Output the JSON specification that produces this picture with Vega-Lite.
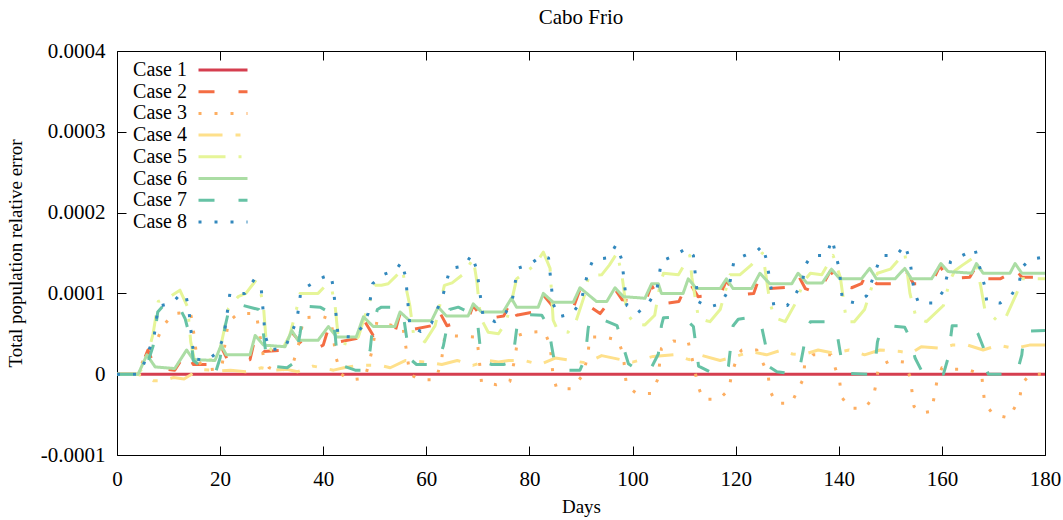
{
"$schema":"https://vega.github.io/schema/vega-lite/v6.json",
"width":928,"height":404,
"autosize":{"type":"none"},
"padding":{"left":117,"top":51,"right":18,"bottom":65},
"background":"white",
"title":{"text":"Cabo Frio","font":"Liberation Serif","fontSize":21,"fontWeight":"normal","color":"black","offset":12,"anchor":"middle"},
"config":{"view":{"stroke":"black","strokeWidth":1},
"axis":{"domain":false,"grid":false,"tickSize":-9,"tickColor":"black","tickWidth":1,"labelFlush":false,"labelOverlap":false,"labelFont":"Liberation Serif","labelFontSize":21,"labelColor":"black","titleFont":"Liberation Serif","titleFontSize":19,"titleFontWeight":"normal","titleColor":"black"}},
"data":{"values":[
{"s":"Case 1","d":0,"v":0},{"s":"Case 1","d":180,"v":0},
{"s":"Case 2","d":0,"v":0},{"s":"Case 2","d":4.1,"v":0},{"s":"Case 2","d":6,"v":30e-6},{"s":"Case 2","d":7.4,"v":8e-6},{"s":"Case 2","d":11.2,"v":5e-6},{"s":"Case 2","d":13.5,"v":28e-6},{"s":"Case 2","d":14.8,"v":12e-6},{"s":"Case 2","d":19,"v":12e-6},{"s":"Case 2","d":20.2,"v":34e-6},{"s":"Case 2","d":21.5,"v":17e-6},{"s":"Case 2","d":25.8,"v":18e-6},{"s":"Case 2","d":26.8,"v":46e-6},{"s":"Case 2","d":28.4,"v":28e-6},{"s":"Case 2","d":32.6,"v":30e-6},{"s":"Case 2","d":33.9,"v":52e-6},{"s":"Case 2","d":35.5,"v":40e-6},{"s":"Case 2","d":37.4,"v":28e-6},{"s":"Case 2","d":40,"v":36e-6},{"s":"Case 2","d":41,"v":57e-6},{"s":"Case 2","d":43,"v":40e-6},{"s":"Case 2","d":46.4,"v":44e-6},{"s":"Case 2","d":47.8,"v":68e-6},{"s":"Case 2","d":49.7,"v":48e-6},{"s":"Case 2","d":53.9,"v":52e-6},{"s":"Case 2","d":54.9,"v":75e-6},{"s":"Case 2","d":57,"v":55e-6},{"s":"Case 2","d":61,"v":60e-6},{"s":"Case 2","d":62.3,"v":80e-6},{"s":"Case 2","d":64,"v":60e-6},{"s":"Case 2","d":68.1,"v":68e-6},{"s":"Case 2","d":69.1,"v":85e-6},{"s":"Case 2","d":71,"v":68e-6},{"s":"Case 2","d":75,"v":72e-6},{"s":"Case 2","d":76.5,"v":92e-6},{"s":"Case 2","d":77.5,"v":73e-6},{"s":"Case 2","d":81.7,"v":78e-6},{"s":"Case 2","d":82.7,"v":98e-6},{"s":"Case 2","d":84,"v":88e-6},{"s":"Case 2","d":85,"v":80e-6},{"s":"Case 2","d":88.5,"v":82e-6},{"s":"Case 2","d":89.8,"v":105e-6},{"s":"Case 2","d":91.4,"v":85e-6},{"s":"Case 2","d":93.7,"v":75e-6},{"s":"Case 2","d":95.5,"v":90e-6},{"s":"Case 2","d":96.6,"v":105e-6},{"s":"Case 2","d":98,"v":92e-6},{"s":"Case 2","d":102.4,"v":89e-6},{"s":"Case 2","d":103.7,"v":110e-6},{"s":"Case 2","d":105.6,"v":87e-6},{"s":"Case 2","d":109,"v":90e-6},{"s":"Case 2","d":110.8,"v":116e-6},{"s":"Case 2","d":112.7,"v":96e-6},{"s":"Case 2","d":117,"v":98e-6},{"s":"Case 2","d":118.2,"v":116e-6},{"s":"Case 2","d":120,"v":98e-6},{"s":"Case 2","d":123.5,"v":100e-6},{"s":"Case 2","d":124.7,"v":122e-6},{"s":"Case 2","d":126.6,"v":106e-6},{"s":"Case 2","d":130.9,"v":108e-6},{"s":"Case 2","d":132.1,"v":123e-6},{"s":"Case 2","d":133.5,"v":106e-6},{"s":"Case 2","d":136,"v":100e-6},{"s":"Case 2","d":138.4,"v":128e-6},{"s":"Case 2","d":140.2,"v":110e-6},{"s":"Case 2","d":142.5,"v":107e-6},{"s":"Case 2","d":144.4,"v":112e-6},{"s":"Case 2","d":145.7,"v":128e-6},{"s":"Case 2","d":147.3,"v":112e-6},{"s":"Case 2","d":151.5,"v":112e-6},{"s":"Case 2","d":153,"v":128e-6},{"s":"Case 2","d":154.5,"v":112e-6},{"s":"Case 2","d":158,"v":112e-6},{"s":"Case 2","d":159.6,"v":134e-6},{"s":"Case 2","d":161.3,"v":118e-6},{"s":"Case 2","d":165.4,"v":120e-6},{"s":"Case 2","d":166.7,"v":134e-6},{"s":"Case 2","d":168.3,"v":118e-6},{"s":"Case 2","d":171.3,"v":118e-6},{"s":"Case 2","d":172.5,"v":122e-6},{"s":"Case 2","d":173.8,"v":134e-6},{"s":"Case 2","d":175.5,"v":120e-6},{"s":"Case 2","d":180,"v":120e-6},
{"s":"Case 3","d":0,"v":0},{"s":"Case 3","d":4,"v":0},{"s":"Case 3","d":5.8,"v":28e-6},{"s":"Case 3","d":7.4,"v":38e-6},{"s":"Case 3","d":9,"v":60e-6},{"s":"Case 3","d":10.9,"v":75e-6},{"s":"Case 3","d":14.2,"v":77e-6},{"s":"Case 3","d":14.6,"v":65e-6},{"s":"Case 3","d":15.5,"v":20e-6},{"s":"Case 3","d":17,"v":5e-6},{"s":"Case 3","d":20.3,"v":7e-6},{"s":"Case 3","d":21,"v":40e-6},{"s":"Case 3","d":21.6,"v":65e-6},{"s":"Case 3","d":23.5,"v":75e-6},{"s":"Case 3","d":27,"v":75e-6},{"s":"Case 3","d":28.4,"v":22e-6},{"s":"Case 3","d":29.5,"v":8e-6},{"s":"Case 3","d":31.3,"v":3e-6},{"s":"Case 3","d":34,"v":10e-6},{"s":"Case 3","d":35.2,"v":36e-6},{"s":"Case 3","d":36.2,"v":70e-6},{"s":"Case 3","d":40,"v":71e-6},{"s":"Case 3","d":41.5,"v":68e-6},{"s":"Case 3","d":42.5,"v":20e-6},{"s":"Case 3","d":43.5,"v":0},{"s":"Case 3","d":45.2,"v":-7e-6},{"s":"Case 3","d":48.1,"v":-5e-6},{"s":"Case 3","d":49.5,"v":30e-6},{"s":"Case 3","d":50.4,"v":65e-6},{"s":"Case 3","d":55.5,"v":57e-6},{"s":"Case 3","d":56.8,"v":0},{"s":"Case 3","d":58.8,"v":-7e-6},{"s":"Case 3","d":61.9,"v":-7e-6},{"s":"Case 3","d":63,"v":20e-6},{"s":"Case 3","d":63.6,"v":48e-6},{"s":"Case 3","d":69.8,"v":46e-6},{"s":"Case 3","d":70.1,"v":28e-6},{"s":"Case 3","d":70.7,"v":-10e-6},{"s":"Case 3","d":73.6,"v":-13e-6},{"s":"Case 3","d":76.2,"v":-9e-6},{"s":"Case 3","d":77.2,"v":20e-6},{"s":"Case 3","d":77.8,"v":48e-6},{"s":"Case 3","d":79.8,"v":52e-6},{"s":"Case 3","d":82.9,"v":53e-6},{"s":"Case 3","d":84,"v":36e-6},{"s":"Case 3","d":84.6,"v":-3e-6},{"s":"Case 3","d":85.3,"v":-18e-6},{"s":"Case 3","d":88.2,"v":-18e-6},{"s":"Case 3","d":90.5,"v":0},{"s":"Case 3","d":91.4,"v":28e-6},{"s":"Case 3","d":91.7,"v":46e-6},{"s":"Case 3","d":94.6,"v":46e-6},{"s":"Case 3","d":97.2,"v":42e-6},{"s":"Case 3","d":98.2,"v":24e-6},{"s":"Case 3","d":98.8,"v":-14e-6},{"s":"Case 3","d":100.8,"v":-24e-6},{"s":"Case 3","d":103.7,"v":-24e-6},{"s":"Case 3","d":104.9,"v":-6e-6},{"s":"Case 3","d":105.6,"v":32e-6},{"s":"Case 3","d":107.9,"v":41e-6},{"s":"Case 3","d":110.8,"v":40e-6},{"s":"Case 3","d":112.1,"v":4e-6},{"s":"Case 3","d":112.7,"v":-15e-6},{"s":"Case 3","d":113.7,"v":-31e-6},{"s":"Case 3","d":116.8,"v":-31e-6},{"s":"Case 3","d":118.7,"v":-19e-6},{"s":"Case 3","d":119.2,"v":0},{"s":"Case 3","d":120.5,"v":25e-6},{"s":"Case 3","d":121.2,"v":30e-6},{"s":"Case 3","d":124.1,"v":30e-6},{"s":"Case 3","d":126.3,"v":0},{"s":"Case 3","d":126.6,"v":-20e-6},{"s":"Case 3","d":127.9,"v":-36e-6},{"s":"Case 3","d":130.8,"v":-36e-6},{"s":"Case 3","d":133.1,"v":-6e-6},{"s":"Case 3","d":133.4,"v":13e-6},{"s":"Case 3","d":135,"v":24e-6},{"s":"Case 3","d":138.5,"v":24e-6},{"s":"Case 3","d":140.2,"v":-10e-6},{"s":"Case 3","d":140.5,"v":-28e-6},{"s":"Case 3","d":142.2,"v":-42e-6},{"s":"Case 3","d":145.1,"v":-42e-6},{"s":"Case 3","d":146.7,"v":-28e-6},{"s":"Case 3","d":147.3,"v":-10e-6},{"s":"Case 3","d":147.7,"v":9e-6},{"s":"Case 3","d":150,"v":17e-6},{"s":"Case 3","d":152.8,"v":15e-6},{"s":"Case 3","d":153.8,"v":-3e-6},{"s":"Case 3","d":154.2,"v":-21e-6},{"s":"Case 3","d":154.6,"v":-40e-6},{"s":"Case 3","d":156,"v":-48e-6},{"s":"Case 3","d":158,"v":-46e-6},{"s":"Case 3","d":159,"v":-10e-6},{"s":"Case 3","d":160,"v":8e-6},{"s":"Case 3","d":161.7,"v":6e-6},{"s":"Case 3","d":164.8,"v":6e-6},{"s":"Case 3","d":167.7,"v":0},{"s":"Case 3","d":168,"v":-18e-6},{"s":"Case 3","d":168.3,"v":-36e-6},{"s":"Case 3","d":170,"v":-50e-6},{"s":"Case 3","d":173,"v":-54e-6},{"s":"Case 3","d":175.1,"v":-30e-6},{"s":"Case 3","d":175.5,"v":-12e-6},{"s":"Case 3","d":177.1,"v":0},{"s":"Case 3","d":180,"v":0},
{"s":"Case 4","d":0,"v":0},{"s":"Case 4","d":4,"v":0},{"s":"Case 4","d":5,"v":-2e-6},{"s":"Case 4","d":7,"v":-8e-6},{"s":"Case 4","d":9,"v":-8e-6},{"s":"Case 4","d":11,"v":-4e-6},{"s":"Case 4","d":13,"v":-6e-6},{"s":"Case 4","d":14,"v":-2e-6},{"s":"Case 4","d":16,"v":6e-6},{"s":"Case 4","d":20,"v":4e-6},{"s":"Case 4","d":22,"v":5e-6},{"s":"Case 4","d":25,"v":3e-6},{"s":"Case 4","d":28,"v":8e-6},{"s":"Case 4","d":30,"v":5e-6},{"s":"Case 4","d":33,"v":6e-6},{"s":"Case 4","d":35,"v":3e-6},{"s":"Case 4","d":38,"v":10e-6},{"s":"Case 4","d":42,"v":5e-6},{"s":"Case 4","d":44,"v":8e-6},{"s":"Case 4","d":46,"v":10e-6},{"s":"Case 4","d":48,"v":11e-6},{"s":"Case 4","d":51,"v":11e-6},{"s":"Case 4","d":53,"v":8e-6},{"s":"Case 4","d":56,"v":17e-6},{"s":"Case 4","d":60,"v":15e-6},{"s":"Case 4","d":63,"v":12e-6},{"s":"Case 4","d":66,"v":17e-6},{"s":"Case 4","d":69,"v":11e-6},{"s":"Case 4","d":72,"v":17e-6},{"s":"Case 4","d":74,"v":15e-6},{"s":"Case 4","d":76,"v":17e-6},{"s":"Case 4","d":79,"v":17e-6},{"s":"Case 4","d":82,"v":12e-6},{"s":"Case 4","d":85,"v":20e-6},{"s":"Case 4","d":88,"v":17e-6},{"s":"Case 4","d":91,"v":14e-6},{"s":"Case 4","d":94,"v":23e-6},{"s":"Case 4","d":97,"v":19e-6},{"s":"Case 4","d":100,"v":15e-6},{"s":"Case 4","d":104,"v":22e-6},{"s":"Case 4","d":108,"v":24e-6},{"s":"Case 4","d":111,"v":18e-6},{"s":"Case 4","d":113,"v":24e-6},{"s":"Case 4","d":117,"v":17e-6},{"s":"Case 4","d":120,"v":22e-6},{"s":"Case 4","d":123,"v":28e-6},{"s":"Case 4","d":126,"v":24e-6},{"s":"Case 4","d":129,"v":30e-6},{"s":"Case 4","d":131,"v":25e-6},{"s":"Case 4","d":133,"v":24e-6},{"s":"Case 4","d":136,"v":30e-6},{"s":"Case 4","d":139,"v":26e-6},{"s":"Case 4","d":142,"v":30e-6},{"s":"Case 4","d":145,"v":24e-6},{"s":"Case 4","d":148,"v":30e-6},{"s":"Case 4","d":152,"v":28e-6},{"s":"Case 4","d":154,"v":26e-6},{"s":"Case 4","d":156,"v":34e-6},{"s":"Case 4","d":160,"v":32e-6},{"s":"Case 4","d":162,"v":36e-6},{"s":"Case 4","d":165,"v":36e-6},{"s":"Case 4","d":168,"v":30e-6},{"s":"Case 4","d":171,"v":36e-6},{"s":"Case 4","d":174,"v":32e-6},{"s":"Case 4","d":177,"v":36e-6},{"s":"Case 4","d":180,"v":36e-6},
{"s":"Case 5","d":0,"v":0},{"s":"Case 5","d":4,"v":0},{"s":"Case 5","d":5,"v":8e-6},{"s":"Case 5","d":6,"v":25e-6},{"s":"Case 5","d":7,"v":50e-6},{"s":"Case 5","d":8,"v":90e-6},{"s":"Case 5","d":10,"v":95e-6},{"s":"Case 5","d":12.2,"v":104e-6},{"s":"Case 5","d":13.7,"v":83e-6},{"s":"Case 5","d":14.3,"v":40e-6},{"s":"Case 5","d":15,"v":18e-6},{"s":"Case 5","d":17,"v":17e-6},{"s":"Case 5","d":18.5,"v":18e-6},{"s":"Case 5","d":19.8,"v":25e-6},{"s":"Case 5","d":20.8,"v":55e-6},{"s":"Case 5","d":21.6,"v":81e-6},{"s":"Case 5","d":23.5,"v":96e-6},{"s":"Case 5","d":25,"v":100e-6},{"s":"Case 5","d":26.8,"v":115e-6},{"s":"Case 5","d":27.7,"v":106e-6},{"s":"Case 5","d":28.4,"v":85e-6},{"s":"Case 5","d":29,"v":35e-6},{"s":"Case 5","d":30,"v":30e-6},{"s":"Case 5","d":32,"v":30e-6},{"s":"Case 5","d":33.5,"v":48e-6},{"s":"Case 5","d":34.8,"v":80e-6},{"s":"Case 5","d":35.5,"v":100e-6},{"s":"Case 5","d":39,"v":100e-6},{"s":"Case 5","d":40.5,"v":110e-6},{"s":"Case 5","d":41.6,"v":107e-6},{"s":"Case 5","d":42.3,"v":85e-6},{"s":"Case 5","d":43,"v":40e-6},{"s":"Case 5","d":45.2,"v":36e-6},{"s":"Case 5","d":46.8,"v":46e-6},{"s":"Case 5","d":48,"v":70e-6},{"s":"Case 5","d":49.5,"v":100e-6},{"s":"Case 5","d":50,"v":110e-6},{"s":"Case 5","d":51.3,"v":110e-6},{"s":"Case 5","d":52.6,"v":112e-6},{"s":"Case 5","d":54.2,"v":122e-6},{"s":"Case 5","d":55.3,"v":130e-6},{"s":"Case 5","d":56.2,"v":103e-6},{"s":"Case 5","d":56.8,"v":85e-6},{"s":"Case 5","d":57.5,"v":50e-6},{"s":"Case 5","d":59.7,"v":40e-6},{"s":"Case 5","d":61.7,"v":60e-6},{"s":"Case 5","d":62.6,"v":85e-6},{"s":"Case 5","d":63.5,"v":110e-6},{"s":"Case 5","d":65,"v":113e-6},{"s":"Case 5","d":67.2,"v":124e-6},{"s":"Case 5","d":69.1,"v":143e-6},{"s":"Case 5","d":69.8,"v":115e-6},{"s":"Case 5","d":70.5,"v":70e-6},{"s":"Case 5","d":72,"v":52e-6},{"s":"Case 5","d":74,"v":50e-6},{"s":"Case 5","d":75.5,"v":65e-6},{"s":"Case 5","d":76.7,"v":95e-6},{"s":"Case 5","d":77.5,"v":118e-6},{"s":"Case 5","d":79,"v":125e-6},{"s":"Case 5","d":81,"v":135e-6},{"s":"Case 5","d":82.7,"v":151e-6},{"s":"Case 5","d":84,"v":131e-6},{"s":"Case 5","d":84.6,"v":67e-6},{"s":"Case 5","d":85.5,"v":54e-6},{"s":"Case 5","d":87.5,"v":52e-6},{"s":"Case 5","d":89,"v":65e-6},{"s":"Case 5","d":90.8,"v":100e-6},{"s":"Case 5","d":91.5,"v":122e-6},{"s":"Case 5","d":94,"v":123e-6},{"s":"Case 5","d":95.5,"v":135e-6},{"s":"Case 5","d":97,"v":150e-6},{"s":"Case 5","d":98,"v":120e-6},{"s":"Case 5","d":98.9,"v":75e-6},{"s":"Case 5","d":100.5,"v":62e-6},{"s":"Case 5","d":102.4,"v":61e-6},{"s":"Case 5","d":104.3,"v":73e-6},{"s":"Case 5","d":105.3,"v":110e-6},{"s":"Case 5","d":106,"v":125e-6},{"s":"Case 5","d":108.9,"v":123e-6},{"s":"Case 5","d":111.1,"v":147e-6},{"s":"Case 5","d":111.5,"v":120e-6},{"s":"Case 5","d":112.8,"v":69e-6},{"s":"Case 5","d":115,"v":65e-6},{"s":"Case 5","d":117,"v":80e-6},{"s":"Case 5","d":118.9,"v":123e-6},{"s":"Case 5","d":120.8,"v":123e-6},{"s":"Case 5","d":123,"v":135e-6},{"s":"Case 5","d":125.2,"v":150e-6},{"s":"Case 5","d":125.7,"v":130e-6},{"s":"Case 5","d":126.6,"v":90e-6},{"s":"Case 5","d":127.5,"v":70e-6},{"s":"Case 5","d":129.6,"v":65e-6},{"s":"Case 5","d":131.8,"v":90e-6},{"s":"Case 5","d":133.2,"v":115e-6},{"s":"Case 5","d":134.5,"v":125e-6},{"s":"Case 5","d":136.7,"v":123e-6},{"s":"Case 5","d":138.9,"v":147e-6},{"s":"Case 5","d":140.3,"v":120e-6},{"s":"Case 5","d":141.5,"v":65e-6},{"s":"Case 5","d":143,"v":65e-6},{"s":"Case 5","d":145,"v":80e-6},{"s":"Case 5","d":146.5,"v":110e-6},{"s":"Case 5","d":147.5,"v":125e-6},{"s":"Case 5","d":150,"v":130e-6},{"s":"Case 5","d":152.8,"v":150e-6},{"s":"Case 5","d":153.8,"v":100e-6},{"s":"Case 5","d":155,"v":70e-6},{"s":"Case 5","d":157,"v":65e-6},{"s":"Case 5","d":160.3,"v":85e-6},{"s":"Case 5","d":161.5,"v":115e-6},{"s":"Case 5","d":162.5,"v":128e-6},{"s":"Case 5","d":164,"v":135e-6},{"s":"Case 5","d":166.3,"v":145e-6},{"s":"Case 5","d":167.5,"v":110e-6},{"s":"Case 5","d":168.3,"v":81e-6},{"s":"Case 5","d":170.9,"v":65e-6},{"s":"Case 5","d":172.5,"v":72e-6},{"s":"Case 5","d":174.5,"v":100e-6},{"s":"Case 5","d":175.5,"v":118e-6},{"s":"Case 5","d":180,"v":118e-6},
{"s":"Case 6","d":0,"v":0},{"s":"Case 6","d":4.1,"v":0},{"s":"Case 6","d":5.8,"v":24e-6},{"s":"Case 6","d":7.4,"v":9e-6},{"s":"Case 6","d":11.2,"v":7e-6},{"s":"Case 6","d":13.5,"v":30e-6},{"s":"Case 6","d":14.8,"v":18e-6},{"s":"Case 6","d":19,"v":17e-6},{"s":"Case 6","d":20.2,"v":36e-6},{"s":"Case 6","d":21.2,"v":24e-6},{"s":"Case 6","d":25.8,"v":24e-6},{"s":"Case 6","d":26.8,"v":48e-6},{"s":"Case 6","d":28.4,"v":36e-6},{"s":"Case 6","d":32.6,"v":34e-6},{"s":"Case 6","d":33.9,"v":54e-6},{"s":"Case 6","d":35.1,"v":42e-6},{"s":"Case 6","d":39,"v":42e-6},{"s":"Case 6","d":41,"v":59e-6},{"s":"Case 6","d":42.6,"v":46e-6},{"s":"Case 6","d":46.4,"v":46e-6},{"s":"Case 6","d":47.8,"v":71e-6},{"s":"Case 6","d":49.7,"v":59e-6},{"s":"Case 6","d":53.9,"v":59e-6},{"s":"Case 6","d":54.9,"v":77e-6},{"s":"Case 6","d":56.8,"v":66e-6},{"s":"Case 6","d":61,"v":66e-6},{"s":"Case 6","d":62.3,"v":83e-6},{"s":"Case 6","d":63.9,"v":72e-6},{"s":"Case 6","d":68.1,"v":72e-6},{"s":"Case 6","d":69.1,"v":87e-6},{"s":"Case 6","d":70.7,"v":77e-6},{"s":"Case 6","d":74.9,"v":77e-6},{"s":"Case 6","d":76.5,"v":94e-6},{"s":"Case 6","d":77.5,"v":83e-6},{"s":"Case 6","d":81.7,"v":83e-6},{"s":"Case 6","d":82.7,"v":100e-6},{"s":"Case 6","d":84.6,"v":89e-6},{"s":"Case 6","d":88.5,"v":89e-6},{"s":"Case 6","d":89.8,"v":107e-6},{"s":"Case 6","d":93,"v":90e-6},{"s":"Case 6","d":95,"v":90e-6},{"s":"Case 6","d":96.6,"v":107e-6},{"s":"Case 6","d":98.2,"v":96e-6},{"s":"Case 6","d":102.4,"v":94e-6},{"s":"Case 6","d":103.7,"v":112e-6},{"s":"Case 6","d":105,"v":112e-6},{"s":"Case 6","d":105.6,"v":100e-6},{"s":"Case 6","d":109.8,"v":100e-6},{"s":"Case 6","d":110.8,"v":118e-6},{"s":"Case 6","d":112.4,"v":106e-6},{"s":"Case 6","d":117,"v":106e-6},{"s":"Case 6","d":118.2,"v":118e-6},{"s":"Case 6","d":119.5,"v":106e-6},{"s":"Case 6","d":123.1,"v":106e-6},{"s":"Case 6","d":124.7,"v":125e-6},{"s":"Case 6","d":126.6,"v":112e-6},{"s":"Case 6","d":130.9,"v":112e-6},{"s":"Case 6","d":132.1,"v":125e-6},{"s":"Case 6","d":133.8,"v":113e-6},{"s":"Case 6","d":136.8,"v":113e-6},{"s":"Case 6","d":138.6,"v":130e-6},{"s":"Case 6","d":140.2,"v":118e-6},{"s":"Case 6","d":144.4,"v":118e-6},{"s":"Case 6","d":146,"v":131e-6},{"s":"Case 6","d":147.3,"v":118e-6},{"s":"Case 6","d":150.9,"v":118e-6},{"s":"Case 6","d":152.8,"v":131e-6},{"s":"Case 6","d":154.1,"v":118e-6},{"s":"Case 6","d":158,"v":118e-6},{"s":"Case 6","d":159.8,"v":137e-6},{"s":"Case 6","d":161.2,"v":127e-6},{"s":"Case 6","d":165.8,"v":125e-6},{"s":"Case 6","d":166.7,"v":137e-6},{"s":"Case 6","d":168,"v":125e-6},{"s":"Case 6","d":173.2,"v":125e-6},{"s":"Case 6","d":174.2,"v":137e-6},{"s":"Case 6","d":175.5,"v":125e-6},{"s":"Case 6","d":180,"v":125e-6},
{"s":"Case 7","d":0,"v":0},{"s":"Case 7","d":4,"v":0},{"s":"Case 7","d":5.5,"v":5e-6},{"s":"Case 7","d":7,"v":35e-6},{"s":"Case 7","d":7.9,"v":77e-6},{"s":"Case 7","d":9,"v":85e-6},{"s":"Case 7","d":11.9,"v":85e-6},{"s":"Case 7","d":13.2,"v":69e-6},{"s":"Case 7","d":14.4,"v":40e-6},{"s":"Case 7","d":14.8,"v":17e-6},{"s":"Case 7","d":17.4,"v":5e-6},{"s":"Case 7","d":19,"v":0},{"s":"Case 7","d":20,"v":20e-6},{"s":"Case 7","d":21,"v":60e-6},{"s":"Case 7","d":21.9,"v":85e-6},{"s":"Case 7","d":24.5,"v":85e-6},{"s":"Case 7","d":27.5,"v":80e-6},{"s":"Case 7","d":28,"v":70e-6},{"s":"Case 7","d":29,"v":20e-6},{"s":"Case 7","d":30,"v":10e-6},{"s":"Case 7","d":33,"v":8e-6},{"s":"Case 7","d":34.5,"v":15e-6},{"s":"Case 7","d":35.5,"v":50e-6},{"s":"Case 7","d":36.2,"v":80e-6},{"s":"Case 7","d":37,"v":84e-6},{"s":"Case 7","d":39.4,"v":83e-6},{"s":"Case 7","d":41.6,"v":75e-6},{"s":"Case 7","d":42.3,"v":50e-6},{"s":"Case 7","d":42.7,"v":21e-6},{"s":"Case 7","d":44,"v":10e-6},{"s":"Case 7","d":46.2,"v":5e-6},{"s":"Case 7","d":48.1,"v":5e-6},{"s":"Case 7","d":49.1,"v":30e-6},{"s":"Case 7","d":49.6,"v":60e-6},{"s":"Case 7","d":50.5,"v":80e-6},{"s":"Case 7","d":51.3,"v":83e-6},{"s":"Case 7","d":54.2,"v":83e-6},{"s":"Case 7","d":55.5,"v":75e-6},{"s":"Case 7","d":56.3,"v":40e-6},{"s":"Case 7","d":57,"v":18e-6},{"s":"Case 7","d":58.1,"v":12e-6},{"s":"Case 7","d":60.7,"v":12e-6},{"s":"Case 7","d":62.5,"v":20e-6},{"s":"Case 7","d":63.3,"v":35e-6},{"s":"Case 7","d":63.9,"v":55e-6},{"s":"Case 7","d":64.5,"v":80e-6},{"s":"Case 7","d":66.2,"v":83e-6},{"s":"Case 7","d":68.8,"v":75e-6},{"s":"Case 7","d":70,"v":60e-6},{"s":"Case 7","d":70.5,"v":30e-6},{"s":"Case 7","d":71.4,"v":15e-6},{"s":"Case 7","d":72.7,"v":12e-6},{"s":"Case 7","d":75,"v":12e-6},{"s":"Case 7","d":76.5,"v":15e-6},{"s":"Case 7","d":76.9,"v":25e-6},{"s":"Case 7","d":77.5,"v":55e-6},{"s":"Case 7","d":77.8,"v":70e-6},{"s":"Case 7","d":79,"v":74e-6},{"s":"Case 7","d":82.4,"v":73e-6},{"s":"Case 7","d":83.7,"v":59e-6},{"s":"Case 7","d":84.3,"v":35e-6},{"s":"Case 7","d":85,"v":10e-6},{"s":"Case 7","d":87,"v":5e-6},{"s":"Case 7","d":89.8,"v":5e-6},{"s":"Case 7","d":90.8,"v":20e-6},{"s":"Case 7","d":91.4,"v":57e-6},{"s":"Case 7","d":91.9,"v":70e-6},{"s":"Case 7","d":94,"v":68e-6},{"s":"Case 7","d":97,"v":60e-6},{"s":"Case 7","d":97.9,"v":40e-6},{"s":"Case 7","d":99.2,"v":13e-6},{"s":"Case 7","d":101,"v":5e-6},{"s":"Case 7","d":103.4,"v":5e-6},{"s":"Case 7","d":105,"v":25e-6},{"s":"Case 7","d":105.6,"v":60e-6},{"s":"Case 7","d":106,"v":70e-6},{"s":"Case 7","d":109.8,"v":71e-6},{"s":"Case 7","d":111.8,"v":59e-6},{"s":"Case 7","d":112.4,"v":30e-6},{"s":"Case 7","d":112.8,"v":10e-6},{"s":"Case 7","d":115,"v":3e-6},{"s":"Case 7","d":117.8,"v":0},{"s":"Case 7","d":118.6,"v":10e-6},{"s":"Case 7","d":119.2,"v":44e-6},{"s":"Case 7","d":119.5,"v":60e-6},{"s":"Case 7","d":120.5,"v":68e-6},{"s":"Case 7","d":123.4,"v":71e-6},{"s":"Case 7","d":125,"v":60e-6},{"s":"Case 7","d":126,"v":30e-6},{"s":"Case 7","d":126.3,"v":10e-6},{"s":"Case 7","d":128,"v":3e-6},{"s":"Case 7","d":131.5,"v":0},{"s":"Case 7","d":132.5,"v":10e-6},{"s":"Case 7","d":133.1,"v":30e-6},{"s":"Case 7","d":133.8,"v":55e-6},{"s":"Case 7","d":134.5,"v":65e-6},{"s":"Case 7","d":137.6,"v":65e-6},{"s":"Case 7","d":139.6,"v":53e-6},{"s":"Case 7","d":140.2,"v":30e-6},{"s":"Case 7","d":140.9,"v":5e-6},{"s":"Case 7","d":142,"v":1e-6},{"s":"Case 7","d":145.7,"v":0},{"s":"Case 7","d":147,"v":10e-6},{"s":"Case 7","d":147.5,"v":40e-6},{"s":"Case 7","d":148.3,"v":58e-6},{"s":"Case 7","d":150,"v":60e-6},{"s":"Case 7","d":152.8,"v":58e-6},{"s":"Case 7","d":153.8,"v":45e-6},{"s":"Case 7","d":154.8,"v":20e-6},{"s":"Case 7","d":156.4,"v":0},{"s":"Case 7","d":160.3,"v":0},{"s":"Case 7","d":161.2,"v":20e-6},{"s":"Case 7","d":162,"v":60e-6},{"s":"Case 7","d":166,"v":60e-6},{"s":"Case 7","d":167,"v":50e-6},{"s":"Case 7","d":168,"v":34e-6},{"s":"Case 7","d":168.7,"v":5e-6},{"s":"Case 7","d":169,"v":0},{"s":"Case 7","d":174,"v":0},{"s":"Case 7","d":174.8,"v":7e-6},{"s":"Case 7","d":175.5,"v":24e-6},{"s":"Case 7","d":176,"v":53e-6},{"s":"Case 7","d":180,"v":54e-6},
{"s":"Case 8","d":0,"v":0},{"s":"Case 8","d":4,"v":0},{"s":"Case 8","d":5.1,"v":11e-6},{"s":"Case 8","d":6.1,"v":28e-6},{"s":"Case 8","d":7.2,"v":47e-6},{"s":"Case 8","d":7.6,"v":66e-6},{"s":"Case 8","d":8,"v":84e-6},{"s":"Case 8","d":10.7,"v":88e-6},{"s":"Case 8","d":12.4,"v":100e-6},{"s":"Case 8","d":13.4,"v":97e-6},{"s":"Case 8","d":14,"v":76e-6},{"s":"Case 8","d":14.6,"v":38e-6},{"s":"Case 8","d":15,"v":19e-6},{"s":"Case 8","d":17.4,"v":17e-6},{"s":"Case 8","d":19.3,"v":26e-6},{"s":"Case 8","d":20.6,"v":44e-6},{"s":"Case 8","d":21.1,"v":63e-6},{"s":"Case 8","d":21.9,"v":100e-6},{"s":"Case 8","d":24.8,"v":100e-6},{"s":"Case 8","d":26.6,"v":117e-6},{"s":"Case 8","d":28,"v":104e-6},{"s":"Case 8","d":28.5,"v":67e-6},{"s":"Case 8","d":28.7,"v":48e-6},{"s":"Case 8","d":29.7,"v":30e-6},{"s":"Case 8","d":32.6,"v":33e-6},{"s":"Case 8","d":33.7,"v":49e-6},{"s":"Case 8","d":34.9,"v":67e-6},{"s":"Case 8","d":35.7,"v":104e-6},{"s":"Case 8","d":37.8,"v":112e-6},{"s":"Case 8","d":40,"v":120e-6},{"s":"Case 8","d":41.5,"v":123e-6},{"s":"Case 8","d":42,"v":105e-6},{"s":"Case 8","d":42.9,"v":47e-6},{"s":"Case 8","d":45.7,"v":46e-6},{"s":"Case 8","d":47.5,"v":58e-6},{"s":"Case 8","d":48.7,"v":75e-6},{"s":"Case 8","d":49.6,"v":112e-6},{"s":"Case 8","d":51.5,"v":123e-6},{"s":"Case 8","d":54.1,"v":129e-6},{"s":"Case 8","d":55.2,"v":139e-6},{"s":"Case 8","d":56,"v":120e-6},{"s":"Case 8","d":56.8,"v":60e-6},{"s":"Case 8","d":58.9,"v":53e-6},{"s":"Case 8","d":61,"v":63e-6},{"s":"Case 8","d":63.2,"v":97e-6},{"s":"Case 8","d":64.6,"v":131e-6},{"s":"Case 8","d":67.4,"v":134e-6},{"s":"Case 8","d":68.8,"v":148e-6},{"s":"Case 8","d":69.8,"v":129e-6},{"s":"Case 8","d":71,"v":72e-6},{"s":"Case 8","d":73.3,"v":65e-6},{"s":"Case 8","d":75.4,"v":76e-6},{"s":"Case 8","d":76.7,"v":93e-6},{"s":"Case 8","d":77.7,"v":131e-6},{"s":"Case 8","d":80.1,"v":136e-6},{"s":"Case 8","d":82.2,"v":146e-6},{"s":"Case 8","d":83.7,"v":144e-6},{"s":"Case 8","d":84.6,"v":87e-6},{"s":"Case 8","d":85.7,"v":71e-6},{"s":"Case 8","d":88.3,"v":75e-6},{"s":"Case 8","d":90,"v":90e-6},{"s":"Case 8","d":91.4,"v":128e-6},{"s":"Case 8","d":92.4,"v":142e-6},{"s":"Case 8","d":95.3,"v":144e-6},{"s":"Case 8","d":96.8,"v":160e-6},{"s":"Case 8","d":97.9,"v":142e-6},{"s":"Case 8","d":98.9,"v":85e-6},{"s":"Case 8","d":101,"v":76e-6},{"s":"Case 8","d":103,"v":87e-6},{"s":"Case 8","d":104.7,"v":104e-6},{"s":"Case 8","d":105.6,"v":140e-6},{"s":"Case 8","d":108.2,"v":147e-6},{"s":"Case 8","d":110.5,"v":156e-6},{"s":"Case 8","d":111.8,"v":147e-6},{"s":"Case 8","d":112.7,"v":90e-6},{"s":"Case 8","d":114.7,"v":83e-6},{"s":"Case 8","d":117.1,"v":87e-6},{"s":"Case 8","d":118.6,"v":104e-6},{"s":"Case 8","d":119.7,"v":141e-6},{"s":"Case 8","d":121.8,"v":147e-6},{"s":"Case 8","d":124.2,"v":153e-6},{"s":"Case 8","d":125.2,"v":159e-6},{"s":"Case 8","d":126,"v":141e-6},{"s":"Case 8","d":127.4,"v":85e-6},{"s":"Case 8","d":130,"v":85e-6},{"s":"Case 8","d":131.7,"v":100e-6},{"s":"Case 8","d":133,"v":115e-6},{"s":"Case 8","d":133.4,"v":134e-6},{"s":"Case 8","d":134.7,"v":147e-6},{"s":"Case 8","d":137.6,"v":147e-6},{"s":"Case 8","d":138.7,"v":167e-6},{"s":"Case 8","d":140.1,"v":130e-6},{"s":"Case 8","d":140.7,"v":92e-6},{"s":"Case 8","d":143.3,"v":88e-6},{"s":"Case 8","d":145.4,"v":97e-6},{"s":"Case 8","d":147.3,"v":131e-6},{"s":"Case 8","d":148.3,"v":147e-6},{"s":"Case 8","d":151.2,"v":147e-6},{"s":"Case 8","d":152.8,"v":160e-6},{"s":"Case 8","d":153.8,"v":141e-6},{"s":"Case 8","d":154.6,"v":103e-6},{"s":"Case 8","d":155.5,"v":88e-6},{"s":"Case 8","d":158.5,"v":88e-6},{"s":"Case 8","d":160.3,"v":103e-6},{"s":"Case 8","d":161.7,"v":140e-6},{"s":"Case 8","d":164,"v":147e-6},{"s":"Case 8","d":166.4,"v":155e-6},{"s":"Case 8","d":168.3,"v":109e-6},{"s":"Case 8","d":168.7,"v":90e-6},{"s":"Case 8","d":171.3,"v":88e-6},{"s":"Case 8","d":173.5,"v":98e-6},{"s":"Case 8","d":175,"v":113e-6},{"s":"Case 8","d":175.5,"v":132e-6},{"s":"Case 8","d":177.1,"v":142e-6},{"s":"Case 8","d":180,"v":145e-6}
]},
"layer":[
{"mark":{"type":"line","strokeWidth":3,"strokeCap":"butt","strokeJoin":"round"},
"encoding":{
"x":{"field":"d","type":"quantitative","scale":{"domain":[0,180],"nice":false,"zero":false},"axis":{"orient":"bottom","values":[0,20,40,60,80,100,120,140,160,180],"title":"Days","labelPadding":22,"titlePadding":8}},
"y":{"field":"v","type":"quantitative","scale":{"domain":[-0.0001,0.0004],"nice":false,"zero":false},"axis":{"orient":"left","values":[-0.0001,0,0.0001,0.0002,0.0003,0.0004],"labelExpr":"datum.value == 0 ? '0' : (datum.value < 0 ? '-' + format(-datum.value, '.4f') : format(datum.value, '.4f'))","title":"Total population relative error","labelPadding":21,"titlePadding":15}},
"color":{"field":"s","type":"nominal","scale":{"domain":["Case 1","Case 2","Case 3","Case 4","Case 5","Case 6","Case 7","Case 8"],"range":["#d53e4f","#f46d43","#fdae61","#fee08b","#e6f598","#abdda4","#66c2a5","#3288bd"]},
"legend":{"title":null,"orient":"none","legendX":96,"legendY":9,"symbolType":"M-4,0L4,0","symbolSize":150,"symbolStrokeWidth":3,"symbolFillColor":"transparent","labelAlign":"right","labelOffset":-46,"labelFont":"Liberation Serif","labelFontSize":20,"labelColor":"black","rowPadding":1.7,"padding":0,"labelLimit":0}},
"strokeDash":{"field":"s","type":"nominal","scale":{"domain":["Case 1","Case 2","Case 3","Case 4","Case 5","Case 6","Case 7","Case 8"],"range":[[1,0],[16,24],[3,13],[24,13,5,13],[27,13,3,13],[1,0],[16,24],[3,13]]},
"legend":{"title":null,"orient":"none","legendX":96,"legendY":9,"symbolType":"M-4,0L4,0","symbolSize":150,"symbolStrokeWidth":3,"symbolFillColor":"transparent","labelAlign":"right","labelOffset":-46,"labelFont":"Liberation Serif","labelFontSize":20,"labelColor":"black","rowPadding":1.7,"padding":0,"labelLimit":0}}
}},
{"transform":[{"filter":"datum.s == 'Case 1'"}],
"mark":{"type":"point","opacity":0},
"encoding":{
"x":{"field":"d","type":"quantitative","axis":{"orient":"top","values":[0,20,40,60,80,100,120,140,160,180],"labels":false,"title":null}},
"y":{"field":"v","type":"quantitative","axis":{"orient":"right","values":[-0.0001,0,0.0001,0.0002,0.0003,0.0004],"labels":false,"title":null}}
}}
],
"resolve":{"axis":{"x":"independent","y":"independent"}}
}
